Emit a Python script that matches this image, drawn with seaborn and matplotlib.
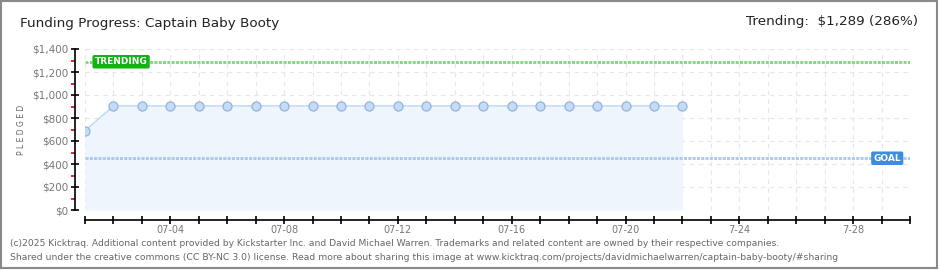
import matplotlib
matplotlib.use("Agg")
import matplotlib.pyplot as plt
import matplotlib.dates as mdates
from matplotlib.ticker import MultipleLocator, NullFormatter
from matplotlib.patches import Rectangle
import seaborn as sns
import pandas as pd

# ---- data ----
dates = ["2025-07-01", "2025-07-02", "2025-07-03", "2025-07-04", "2025-07-05",
         "2025-07-06", "2025-07-07", "2025-07-08", "2025-07-09", "2025-07-10",
         "2025-07-11", "2025-07-12", "2025-07-13", "2025-07-14", "2025-07-15",
         "2025-07-16", "2025-07-17", "2025-07-18", "2025-07-19", "2025-07-20",
         "2025-07-21", "2025-07-22"]
pledged = [690, 905, 905, 905, 905, 905, 905, 905, 905, 905, 905,
           905, 905, 905, 905, 905, 905, 905, 905, 905, 905, 905]
goal = 450
trending = 1289
trending_pct = 286
x_start, x_end = "2025-07-01", "2025-07-30"
tick_dates = ["2025-07-04", "2025-07-08", "2025-07-12", "2025-07-16",
              "2025-07-20", "2025-07-24", "2025-07-28"]
tick_labels = ["07-04", "07-08", "07-12", "07-16", "07-20", "7-24", "7-28"]
y_ticks = [0, 200, 400, 600, 800, 1000, 1200, 1400]
y_tick_labels = ["$0", "$200", "$400", "$600", "$800", "$1,000", "$1,200", "$1,400"]

title = "Funding Progress: Captain Baby Booty"
footer1 = ("(c)2025 Kicktraq. Additional content provided by Kickstarter Inc. and David Michael Warren. "
           "Trademarks and related content are owned by their respective companies.")
footer2 = ("Shared under the creative commons (CC BY-NC 3.0) license. Read more about sharing this image at "
           "www.kicktraq.com/projects/davidmichaelwarren/captain-baby-booty/#sharing")

df = pd.DataFrame({"date": pd.to_datetime(dates), "pledged": pledged})

sns.set_theme(style="white")
plt.rcParams["font.family"] = ["DejaVu Sans"]

W, H = 940, 270
fig = plt.figure(figsize=(W / 100, H / 100), dpi=100)
fig.patch.set_facecolor("white")
ax = fig.add_axes([85 / W, 1 - 210 / H, (910 - 85) / W, (210 - 49) / H])
ax.set_facecolor("white")

# grid
ax.grid(True, which="major", color="#e6e6e6", linestyle=(0, (4, 4)), linewidth=0.8)

# fill + line + markers
ax.fill_between(df["date"], df["pledged"], 0, color="#eef5fd", zorder=1, linewidth=0)
sns.lineplot(data=df, x="date", y="pledged", ax=ax, color="#bcd6f2", linewidth=1,
             marker="o", markersize=6.5, markerfacecolor="#c6dcf6",
             markeredgecolor="#93b3da", markeredgewidth=0.9, zorder=3)

# goal & trending lines
ax.axhline(trending, color="#80d680", linewidth=2.0, linestyle=(0, (1.1, 0.45)), zorder=2)
ax.axhline(goal, color="#a9c8ec", linewidth=2.0, linestyle=(0, (1.1, 0.45)), zorder=2)

x0 = mdates.date2num(pd.Timestamp(x_start))
ax.text(x0 + 1.27, trending, "TRENDING", color="white", fontsize=6.5, fontweight="bold",
        ha="center", va="center", zorder=5,
        bbox=dict(boxstyle="round,pad=0.25,rounding_size=0.2", fc="#14b214", ec="none"))
ax.text(x0 + 28.2, goal, "GOAL", color="white", fontsize=6.5, fontweight="bold",
        ha="center", va="center", zorder=5,
        bbox=dict(boxstyle="round,pad=0.25,rounding_size=0.2", fc="#3c8ddd", ec="none"))

# limits
ax.set_xlim(pd.Timestamp(x_start), pd.Timestamp(x_end))
ax.set_ylim(0, 1400)

# spines (offset 10 px = 7.2 pt)
for s in ["top", "right"]:
    ax.spines[s].set_visible(False)
ax.spines["left"].set_position(("outward", 7.2))
ax.spines["bottom"].set_position(("outward", 7.2))
ax.spines["left"].set_color("black")
ax.spines["bottom"].set_color("black")
ax.spines["left"].set_linewidth(1.2)
ax.spines["bottom"].set_linewidth(1.2)

# y ticks
ax.set_yticks(y_ticks)
ax.set_yticklabels(y_tick_labels)
ax.yaxis.set_minor_locator(MultipleLocator(100))
ax.tick_params(axis="y", which="major", direction="inout", length=6, width=1.2,
               color="black", labelsize=7.5, labelcolor="#777777", pad=2, left=True)
ax.tick_params(axis="y", which="minor", direction="out", length=3, width=1.2,
               color="#ee0000", left=True)

# x ticks: every day, labels every 4 days
ax.xaxis.set_major_locator(mdates.DayLocator())
ax.xaxis.set_major_formatter(NullFormatter())
ax.tick_params(axis="x", which="major", direction="inout", length=6, width=1.2,
               color="black", bottom=True)
for d, lab in zip(tick_dates, tick_labels):
    ax.annotate(lab, xy=(mdates.date2num(pd.Timestamp(d)), 0), xycoords=("data", "axes fraction"),
                xytext=(0, -20), textcoords="offset pixels", ha="center", va="center",
                fontsize=7, color="#777777", annotation_clip=False)
ax.set_xlabel("")
ax.set_ylabel("")

# texts
fig.text(20 / W, 1 - 24 / H, title, fontsize=9.7, color="#222222", ha="left", va="center")
fig.text(918 / W, 1 - 22 / H, "Trending:  \\$1,289 (286%)", fontsize=9.7, color="#222222",
         ha="right", va="center")
fig.text(22 / W, 1 - 130 / H, "P L E D G E D", fontsize=5.5, color="#666666",
         rotation=90, ha="center", va="center")
fig.text(10 / W, 1 - 243 / H, footer1, fontsize=6.6, color="#666666", ha="left", va="center")
fig.text(10 / W, 1 - 257 / H, footer2, fontsize=6.7, color="#666666", ha="left", va="center")

# border
fig.add_artist(Rectangle((0.5 / W, 2 / H), 936 / W, 267.5 / H, transform=fig.transFigure,
                         fill=False, edgecolor="#8a8a8a", linewidth=1.5))

fig.savefig("out.png", dpi=100, facecolor="white")
